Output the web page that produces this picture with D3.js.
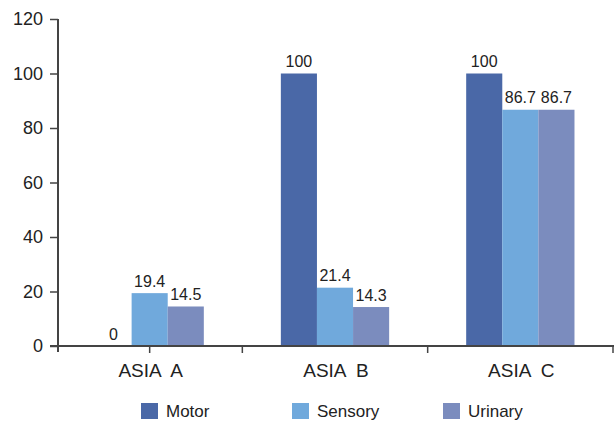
<!DOCTYPE html>
<html>
<head>
<meta charset="utf-8">
<script src="https://cdn.jsdelivr.net/npm/d3@7"></script>
<style>
  html, body { margin: 0; padding: 0; background: #fff; }
  svg { display: block; font-family: "Liberation Sans", Arial, sans-serif; }
</style>
</head>
<body>
<svg id="chart" width="616" height="422"></svg>
<script>
// Percentage of patients with each deficit, by ASIA grade
const categories = ["ASIA  A", "ASIA  B", "ASIA  C"];
const seriesNames = ["Motor", "Sensory", "Urinary"];
const motor   = [0, 100, 100];
const sensory = [19.4, 21.4, 86.7];
const urinary = [14.5, 14.3, 86.7];
const yTicks = [0, 20, 40, 60, 80, 100, 120];
const colors = ["#4a68a7", "#70a9dc", "#7b8cbe"];

const seriesValues = [motor, sensory, urinary];
const rows = categories.map((c, i) => ({
  cat: c,
  vals: seriesNames.map((s, k) => ({ key: s, value: seriesValues[k][i] }))
}));

const svg = d3.select("#chart");
const textColor = "#222";
const axisColor = "#444";

const x0 = d3.scaleBand().domain(categories).range([57, 613]).padding(0);
const groupW = 108.3;
const x1 = d3.scaleBand().domain(seriesNames)
  .range([(x0.bandwidth() - groupW) / 2, (x0.bandwidth() + groupW) / 2]).padding(0);
const y = d3.scaleLinear().domain([0, 120]).range([346, 19]);
const color = d3.scaleOrdinal().domain(seriesNames).range(colors);

// Bars
const groups = svg.append("g").selectAll("g").data(rows).join("g")
  .attr("transform", d => `translate(${x0(d.cat)},0)`);

groups.selectAll("rect").data(d => d.vals).join("rect")
  .attr("x", d => x1(d.key))
  .attr("width", x1.bandwidth())
  .attr("y", d => y(d.value))
  .attr("height", d => y(0) - y(d.value))
  .attr("fill", d => color(d.key));

// Value labels
groups.selectAll("text.val").data(d => d.vals).join("text")
  .attr("class", "val")
  .attr("x", d => x1(d.key) + x1.bandwidth() / 2)
  .attr("y", d => y(d.value) - 6.5)
  .attr("text-anchor", "middle")
  .attr("font-size", 16)
  .attr("fill", textColor)
  .text(d => d.value);

// Y axis
const yAxis = svg.append("g").attr("transform", "translate(58,0)")
  .call(d3.axisLeft(y).tickValues(yTicks).tickSize(8).tickPadding(7).tickFormat(d3.format("d")));
yAxis.select(".domain").attr("stroke", axisColor).attr("stroke-width", 2)
  .attr("d", `M0,${y(120)}V${y(0) + 6}`);
yAxis.selectAll(".tick line").attr("stroke", axisColor).attr("stroke-width", 1.5);
yAxis.selectAll(".tick text").attr("font-size", 18).attr("fill", textColor)
  .attr("font-family", "Liberation Sans, Arial, sans-serif");

// X axis: baseline with separators between groups
const xAxis = svg.append("g").attr("transform", `translate(0,${y(0)})`);
xAxis.append("line").attr("x1", 50).attr("x2", 614).attr("y1", 0).attr("y2", 0)
  .attr("stroke", axisColor).attr("stroke-width", 2);
const sepX = [x0(categories[0]) + x0.bandwidth() / 2]
  .concat(categories.slice(1).map(c => x0(c)))
  .concat([x0(categories[2]) + x0.bandwidth()]);
xAxis.selectAll("line.sep").data(sepX).join("line").attr("class", "sep")
  .attr("x1", d => d).attr("x2", d => d).attr("y1", 0).attr("y2", 7)
  .attr("stroke", axisColor).attr("stroke-width", 1.5);
xAxis.selectAll("text").data(categories).join("text")
  .attr("x", d => x0(d) + x0.bandwidth() / 2 + 1)
  .attr("y", 31)
  .attr("text-anchor", "middle")
  .attr("font-size", 19)
  .attr("fill", textColor)
  .style("white-space", "pre")
  .attr("xml:space", "preserve")
  .text(d => d);

// Legend
const legendX = [141, 292, 443];
const legend = svg.append("g").selectAll("g").data(seriesNames).join("g")
  .attr("transform", (d, i) => `translate(${legendX[i]},403)`);
legend.append("rect").attr("width", 17).attr("height", 16).attr("fill", d => color(d));
legend.append("text").attr("x", 25).attr("y", 14)
  .attr("font-size", 17).attr("fill", textColor).text(d => d);
</script>
</body>
</html>
